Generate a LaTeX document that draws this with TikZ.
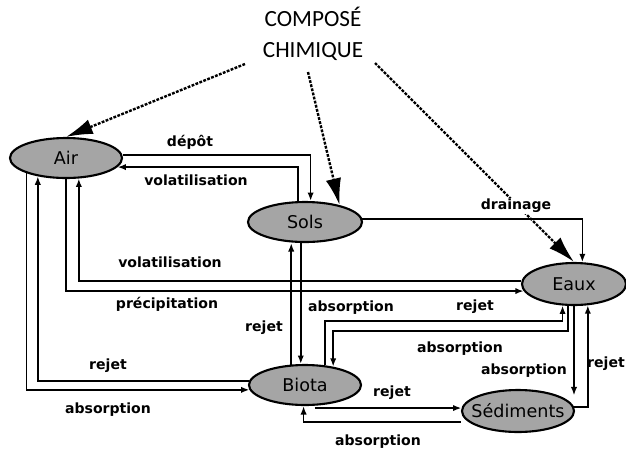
\documentclass[tikz,border=0pt]{standalone}
\usepackage{fontspec}
\setmainfont{DejaVu Sans}
\newfontfamily\titlefont{Carlito}
\usepackage{tikz}
\usetikzlibrary{positioning, arrows.meta, shapes}
\definecolor{gris}{RGB}{165, 165, 165}
\newcommand{\ovtext}[1]{\makebox[0pt]{#1}}
\tikzset{
    comp/.style={ellipse, draw, fill=gris, line width=1.5pt, inner sep=0pt, minimum width=2.8cm, minimum height=1cm, font=\fontsize{12.5}{14}\selectfont},
    flux/.style={-{Latex[length=6pt,width=4.5pt]}, line width=1.2pt},
    apport/.style={-{Latex[length=19pt,width=11pt]}, line width=1.7pt, dash pattern=on 2pt off 1pt},
    lbl/.style={font=\bfseries\fontsize{10}{12}\selectfont, inner sep=1pt},
    titre/.style={font=\titlefont\fontsize{16.5}{22}\selectfont, align=center, inner sep=0pt},
}

\begin{document}
\begin{tikzpicture}[x=0.025cm, y=-0.025cm]
    \useasboundingbox (0,0) rectangle (626,450);
    % compartiments
    \node[comp] (air) at (66,158) {\ovtext{Air}};
    \node[comp, minimum width=2.85cm] (sols) at (305,222) {\ovtext{Sols}};
    \node[comp] (biota) at (305,385) {\ovtext{Biota}};
    \node[comp, minimum width=2.6cm, minimum height=1.05cm] (eaux) at (574,284) {\ovtext{Eaux}};
    \node[comp, minimum height=1.05cm] (sed) at (518,411) {\ovtext{Sédiments}};
    \node[titre] (chim) at (313,34) {COMPOSÉ\\CHIMIQUE};

    % apports du compose
    \draw[apport] ([shift={(-68,30)}]chim.center) -- (air.north);
    \draw[apport] ([shift={(-5,38)}]chim.center) -- (sols.26);
    \draw[apport] ([shift={(62,29)}]chim.center) -- (eaux.north);

    % air et sols
    \draw[flux] ([yshift=2pt]air.east) -| ([xshift=4pt]sols.north);
    \draw[flux] ([xshift=-5pt]sols.north) |- (air.-10);

    % air et biota
    \draw[flux] (air.201) |- (biota.185);
    \draw[flux] (biota.176) -| (air.213);

    % air et eaux
    \draw[flux] (air.south) |- (eaux.188);
    \draw[flux] (eaux.177) -| (air.-58);

    % sols
    \draw[flux] (sols.3) -| (eaux.69);
    \draw[flux] (biota.124) -- (biota.124 |- sols.south);
    \draw[flux] ([xshift=-3pt]sols.south) -- ([xshift=-3pt]biota.north);

    % biota et eaux
    \draw[flux] (biota.45) -- ++(0,-44) -| (eaux.242);
    \draw[flux] (eaux.254) -- ++(0,25) -| (biota.33);

    % sediments
    \draw[flux] (eaux.south) -- (eaux.south |- sed.north east);
    \draw[flux] (sed.4) -| (eaux.-57);
    \draw[flux] ([xshift=7pt]sed.177 -| biota.south) -- (sed.177);
    \draw[flux] ([yshift=-8pt]sed.west) -| ([xshift=-1pt]biota.south);

    % etiquettes
    \node[lbl] (l1) at (190,142) {dépôt};
    \node[lbl] (l2) at (196,180) {volatilisation};
    \node[lbl] (l3) at (170,262) {volatilisation};
    \node[lbl] (l4) at (167,304) {précipitation};
    \node[lbl] (l5) at (108,366) {rejet};
    \node[lbl] (l6) at (108,410) {absorption};
    \node[lbl] (l7) at (264,328) {rejet};
    \node[lbl] (l8) at (351,308) {absorption};
    \node[lbl] (l9) at (475,307) {rejet};
    \node[lbl] (l10) at (460,349) {absorption};
    \node[lbl] (l11) at (524,371) {absorption};
    \node[lbl] (l12) at (606,364) {rejet};
    \node[lbl] (l13) at (392,393) {rejet};
    \node[lbl] (l14) at (378,442) {absorption};
    \node[lbl, fill=white] (l15) at (516,206) {drainage};
\end{tikzpicture}
\end{document}
